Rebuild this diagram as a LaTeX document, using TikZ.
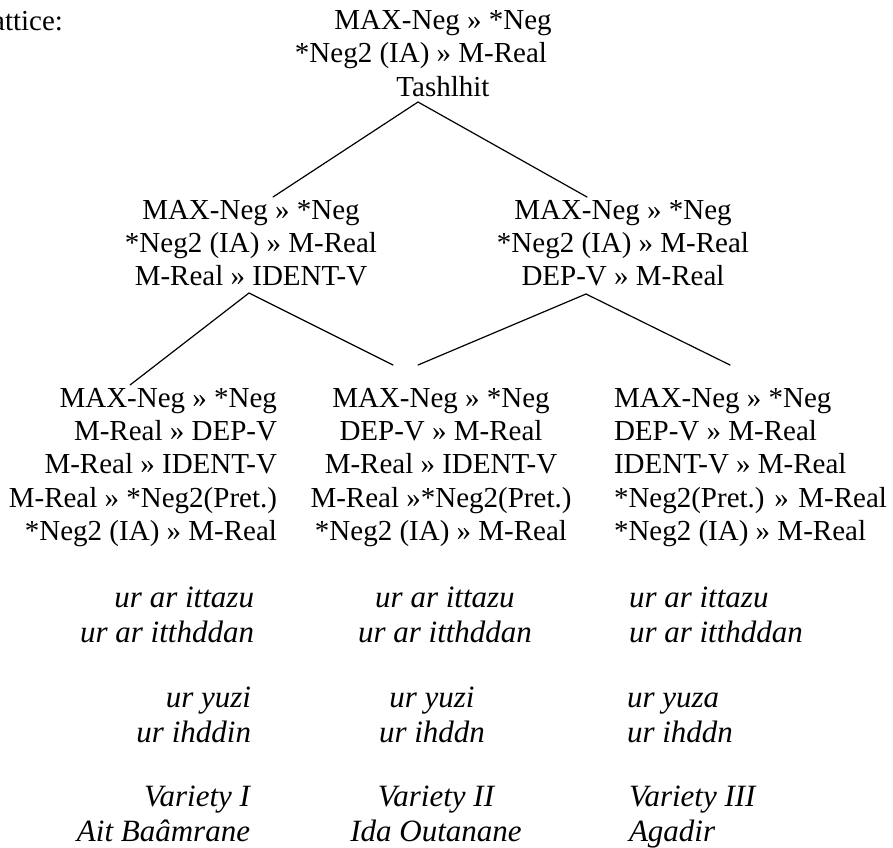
\documentclass[tikz,border=0pt]{standalone}
\usepackage{fontspec}
\setmainfont{Liberation Serif}
\usepackage{array}
\newcommand\stackR[1]{\begin{tabular}[t]{@{}r@{}}#1\end{tabular}}
\newcommand\stackC[1]{\begin{tabular}[t]{@{}c@{}}#1\end{tabular}}
\newcommand\stackL[1]{\begin{tabular}[t]{@{}l@{}}#1\end{tabular}}
\begin{document}
\begin{tikzpicture}[x=1pt,y=-1pt,
  lbl/.style={inner sep=0pt, outer sep=0pt, font=\fontsize{29}{33.4}\selectfont},
  itl/.style={inner sep=0pt, outer sep=0pt, font=\fontsize{31}{35}\selectfont\itshape},
  edge/.style={line width=1.2pt, line cap=round}]
\useasboundingbox (0,0) rectangle (893,847);
\clip (0,0) rectangle (893,847);
% title fragment
\node[lbl, anchor=base east] (lat) at (63,30) {Lattice:};
% top
\node[lbl, anchor=base] (top) at (443,29.5) {\stackC{MAX-Neg » *Neg\\{}*Neg2 (IA) » M-Real\hspace*{44pt}\\Tashlhit}};
% middle
\node[lbl, anchor=base] (midL) at (251,219) {\stackC{MAX-Neg » *Neg\\{}*Neg2 (IA) » M-Real\\M-Real » IDENT-V}};
\node[lbl, anchor=base] (midR) at (623,219) {\stackC{MAX-Neg » *Neg\\{}*Neg2 (IA) » M-Real\\DEP-V » M-Real}};
% bottom
\node[lbl, anchor=base east] (botL) at (277,407) {\stackR{MAX-Neg » *Neg\\M-Real » DEP-V\\M-Real » IDENT-V\\M-Real » *Neg2(Pret.)\\{}*Neg2 (IA) » M-Real}};
\node[lbl, anchor=base] (botM) at (441,407) {\stackC{MAX-Neg » *Neg\\DEP-V » M-Real\\M-Real » IDENT-V\\M-Real »*Neg2(Pret.)\\{}*Neg2 (IA) » M-Real}};
\node[lbl, anchor=base west] (botR) at (614,407) {\stackL{MAX-Neg » *Neg\\DEP-V » M-Real\\IDENT-V » M-Real\\{}*Neg2(Pret.) » M-Real\\{}*Neg2 (IA) » M-Real}};
% italic forms
\node[itl, anchor=base east] (f1L) at (254,607) {\stackR{ur ar ittazu\\ur ar itthddan}};
\node[itl, anchor=base] (f1M) at (445,607) {\stackC{ur ar ittazu\\ur ar itthddan}};
\node[itl, anchor=base west] (f1R) at (629,607) {\stackL{ur ar ittazu\\ur ar itthddan}};
\node[itl, anchor=base east] (f2L) at (251,707) {\stackR{ur yuzi\\ur ihddin}};
\node[itl, anchor=base] (f2M) at (432,707) {\stackC{ur yuzi\\ur ihddn}};
\node[itl, anchor=base west] (f2R) at (627,707) {\stackL{ur yuza\\ur ihddn}};
\node[itl, anchor=base east] (vL) at (250,806) {\stackR{Variety I\\Ait Baâmrane}};
\node[itl, anchor=base] (vM) at (436,806) {\stackC{Variety II\\Ida Outanane}};
\node[itl, anchor=base west] (vR) at (629,806) {\stackL{Variety III\\Agadir}};
% connector end points
\coordinate (topJ) at (418,102);
\coordinate (midLin) at (273,197);
\coordinate (midRin) at (587,197);
\coordinate (midLJ) at (249,293);
\coordinate (midRJ) at (586,294);
\coordinate (botLin) at (130,385);
\coordinate (botMinL) at (393,365);
\coordinate (botMinR) at (418,365);
\coordinate (botRin) at (730,365);
\draw[edge] (midLin) -- (topJ) -- (midRin);
\draw[edge] (botLin) -- (midLJ) -- (botMinL);
\draw[edge] (botMinR) -- (midRJ) -- (botRin);
\end{tikzpicture}
\end{document}
